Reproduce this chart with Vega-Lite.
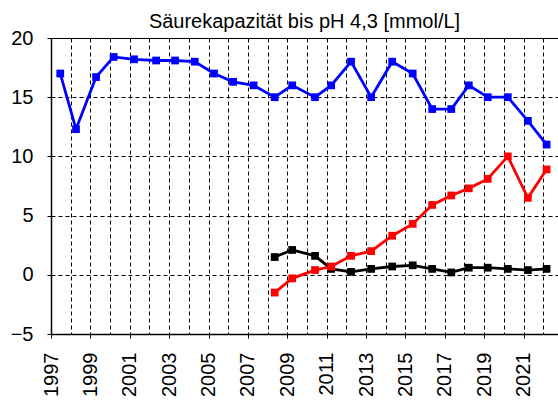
{
  "$schema": "https://vega.github.io/schema/vega-lite/v6.json",
  "width": 507,
  "height": 296,
  "autosize": {"type": "none"},
  "padding": {"top": 38, "left": 51, "right": 0, "bottom": 68},
  "background": "white",
  "config": {
    "font": "Liberation Sans",
    "view": {"stroke": "black", "strokeWidth": 1}
  },
  "title": {
    "text": "Säurekapazität bis pH 4,3 [mmol/L]",
    "fontSize": 20,
    "fontWeight": "normal",
    "font": "Liberation Sans",
    "color": "black",
    "frame": "group",
    "anchor": "middle",
    "offset": -4
  },
  "data": {
    "values": [
      {"year": 1997.47, "value": 17.0, "series": "A"},
      {"year": 1998.27, "value": 12.3, "series": "A"},
      {"year": 1999.29, "value": 16.7, "series": "A"},
      {"year": 2000.18, "value": 18.4, "series": "A"},
      {"year": 2001.22, "value": 18.2, "series": "A"},
      {"year": 2002.34, "value": 18.1, "series": "A"},
      {"year": 2003.30, "value": 18.1, "series": "A"},
      {"year": 2004.30, "value": 18.0, "series": "A"},
      {"year": 2005.28, "value": 17.0, "series": "A"},
      {"year": 2006.25, "value": 16.3, "series": "A"},
      {"year": 2007.29, "value": 16.0, "series": "A"},
      {"year": 2008.36, "value": 15.0, "series": "A"},
      {"year": 2009.25, "value": 16.0, "series": "A"},
      {"year": 2010.41, "value": 15.0, "series": "A"},
      {"year": 2011.23, "value": 16.0, "series": "A"},
      {"year": 2012.24, "value": 18.0, "series": "A"},
      {"year": 2013.26, "value": 15.0, "series": "A"},
      {"year": 2014.33, "value": 18.0, "series": "A"},
      {"year": 2015.37, "value": 17.0, "series": "A"},
      {"year": 2016.36, "value": 14.0, "series": "A"},
      {"year": 2017.33, "value": 14.0, "series": "A"},
      {"year": 2018.22, "value": 16.0, "series": "A"},
      {"year": 2019.18, "value": 15.0, "series": "A"},
      {"year": 2020.20, "value": 15.0, "series": "A"},
      {"year": 2021.22, "value": 13.0, "series": "A"},
      {"year": 2022.17, "value": 11.0, "series": "A"},
      {"year": 2008.36, "value": 1.5, "series": "B"},
      {"year": 2009.25, "value": 2.1, "series": "B"},
      {"year": 2010.41, "value": 1.6, "series": "B"},
      {"year": 2011.23, "value": 0.5, "series": "B"},
      {"year": 2012.24, "value": 0.25, "series": "B"},
      {"year": 2013.26, "value": 0.5, "series": "B"},
      {"year": 2014.33, "value": 0.7, "series": "B"},
      {"year": 2015.37, "value": 0.8, "series": "B"},
      {"year": 2016.36, "value": 0.5, "series": "B"},
      {"year": 2017.33, "value": 0.2, "series": "B"},
      {"year": 2018.22, "value": 0.6, "series": "B"},
      {"year": 2019.18, "value": 0.6, "series": "B"},
      {"year": 2020.20, "value": 0.5, "series": "B"},
      {"year": 2021.22, "value": 0.4, "series": "B"},
      {"year": 2022.17, "value": 0.5, "series": "B"},
      {"year": 2008.36, "value": -1.5, "series": "C"},
      {"year": 2009.25, "value": -0.3, "series": "C"},
      {"year": 2010.41, "value": 0.4, "series": "C"},
      {"year": 2011.23, "value": 0.7, "series": "C"},
      {"year": 2012.24, "value": 1.6, "series": "C"},
      {"year": 2013.26, "value": 2.0, "series": "C"},
      {"year": 2014.33, "value": 3.3, "series": "C"},
      {"year": 2015.37, "value": 4.3, "series": "C"},
      {"year": 2016.36, "value": 5.9, "series": "C"},
      {"year": 2017.33, "value": 6.7, "series": "C"},
      {"year": 2018.22, "value": 7.3, "series": "C"},
      {"year": 2019.18, "value": 8.1, "series": "C"},
      {"year": 2020.20, "value": 10.0, "series": "C"},
      {"year": 2021.22, "value": 6.5, "series": "C"},
      {"year": 2022.17, "value": 8.9, "series": "C"}
    ]
  },
  "mark": {
    "type": "line",
    "strokeWidth": 2.8,
    "point": {"shape": "square", "filled": true, "size": 60, "opacity": 1}
  },
  "encoding": {
    "x": {
      "field": "year",
      "type": "quantitative",
      "scale": {"domain": [1997, 2022.75], "nice": false, "zero": false},
      "axis": {
        "title": null,
        "values": [1997, 1998, 1999, 2000, 2001, 2002, 2003, 2004, 2005, 2006, 2007, 2008, 2009, 2010, 2011, 2012, 2013, 2014, 2015, 2016, 2017, 2018, 2019, 2020, 2021, 2022],
        "format": "d",
        "labelExpr": "datum.value % 2 == 1 ? datum.label : ''",
        "labelAngle": 270,
        "labelAlign": "right",
        "labelBaseline": "middle",
        "labelFontSize": 20,
        "labelColor": "black",
        "labelPadding": 14,
        "labelFlush": false,
        "labelOverlap": false,
        "domainColor": "black",
        "domainWidth": 1.5,
        "tickColor": "black",
        "tickSize": 4,
        "tickOpacity": {"condition": {"test": "datum.value % 2 == 1", "value": 1}, "value": 0},
        "grid": true,
        "gridColor": "black",
        "gridDash": [4, 3],
        "gridWidth": 1,
        "gridOpacity": 1
      }
    },
    "y": {
      "field": "value",
      "type": "quantitative",
      "scale": {"domain": [-5, 20], "nice": false, "zero": false},
      "axis": {
        "title": null,
        "values": [-5, 0, 5, 10, 15, 20],
        "format": "d",
        "labelFontSize": 20,
        "labelColor": "black",
        "labelPadding": 14,
        "domainColor": "black",
        "domainWidth": 1.5,
        "tickColor": "black",
        "tickSize": 4,
        "grid": true,
        "gridColor": "black",
        "gridDash": [4, 3],
        "gridWidth": 1,
        "gridOpacity": 1
      }
    },
    "color": {
      "field": "series",
      "type": "nominal",
      "scale": {"domain": ["A", "B", "C"], "range": ["#0000FF", "#000000", "#FF0000"]},
      "legend": null
    }
  }
}
